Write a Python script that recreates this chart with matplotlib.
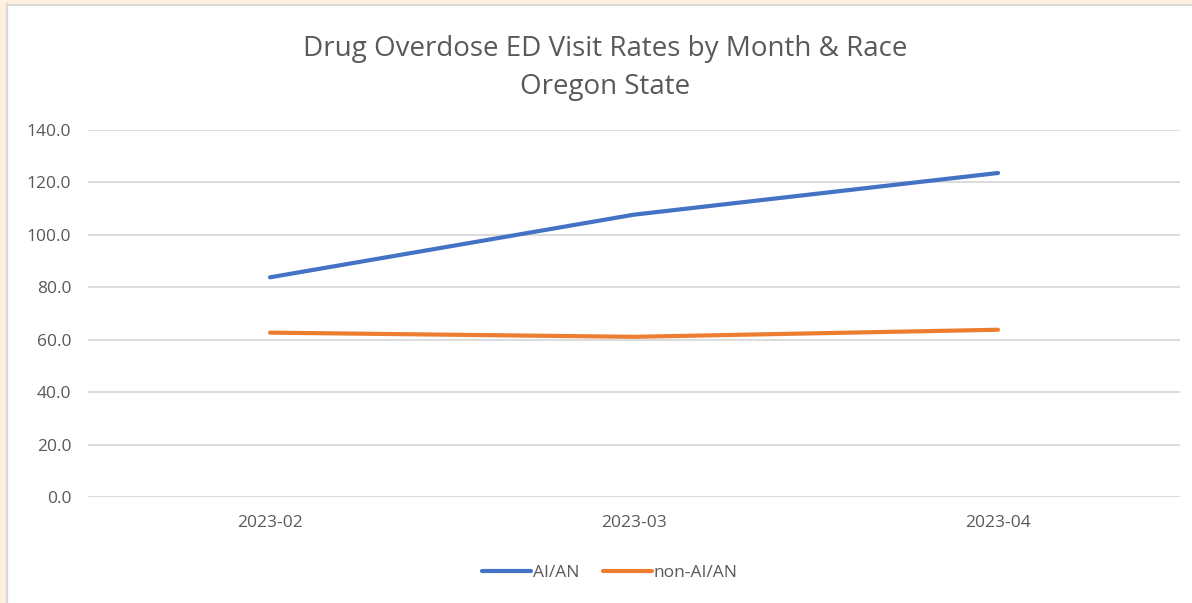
import matplotlib
matplotlib.use("Agg")
import matplotlib.pyplot as plt
import matplotlib.patches as patches

# Data
months = ["2023-02", "2023-03", "2023-04"]
aian = [83.8, 107.7, 123.6]
non_aian = [62.7, 61.1, 63.8]
yticks = [0, 20, 40, 60, 80, 100, 120, 140]

text_color = "#595959"
plt.rcParams["font.family"] = ["Open Sans", "DejaVu Sans"]

fig = plt.figure(figsize=(11.92, 6.03), dpi=100)
ax = fig.add_axes([88 / 1192, 1 - 497 / 603, 1092 / 1192, 367 / 603])

x = list(range(len(months)))
ax.plot(x, aian, color="#4472C4", lw=3.0, solid_capstyle="round", label="AI/AN")
ax.plot(x, non_aian, color="#ED7D31", lw=3.0, solid_capstyle="round", label="non-AI/AN")

ax.set_xlim(-0.5, len(months) - 0.5)
ax.set_ylim(0, 140)
ax.set_xticks(x)
ax.set_xticklabels(months)
ax.set_yticks(yticks)
ax.set_yticklabels([f"{v:.1f}" for v in yticks])
ax.tick_params(axis="both", length=0, colors=text_color, labelsize=12.5)
ax.tick_params(axis="x", pad=13)
ax.tick_params(axis="y", pad=12)
ax.grid(axis="y", color="#D9D9D9", lw=1.3)
ax.set_axisbelow(True)
for s in ax.spines.values():
    s.set_visible(False)

fig.text(605 / 1192, 1 - 49 / 603, "Drug Overdose ED Visit Rates by Month & Race",
         ha="center", va="center", fontsize=20, color=text_color)
fig.text(605 / 1192, 1 - 87 / 603, "Oregon State",
         ha="center", va="center", fontsize=20, color=text_color)

leg = fig.legend(loc="center", bbox_to_anchor=(610 / 1192, 1 - 573 / 603), ncol=2,
                 frameon=False, fontsize=12.5, handlelength=2.8, handletextpad=0.1,
                 columnspacing=1.4)
for t in leg.get_texts():
    t.set_color(text_color)

# beige frame around the chart (top and left edges)
fig.patches.append(patches.Rectangle((0, 0), 7 / 1192, 1, transform=fig.transFigure,
                                     color="#FDF0DF", zorder=0))
fig.patches.append(patches.Rectangle((0, 1 - 4 / 603), 1, 4 / 603, transform=fig.transFigure,
                                     color="#FDF0DF", zorder=0))
fig.lines.append(plt.Line2D([7.5 / 1192, 7.5 / 1192], [0, 1 - 4 / 603], transform=fig.transFigure,
                            color="#D9D9D9", lw=1.5))
fig.lines.append(plt.Line2D([7.5 / 1192, 1], [1 - 4.5 / 603, 1 - 4.5 / 603], transform=fig.transFigure,
                            color="#D9D9D9", lw=1.5))

fig.savefig("out.png", dpi=100)
